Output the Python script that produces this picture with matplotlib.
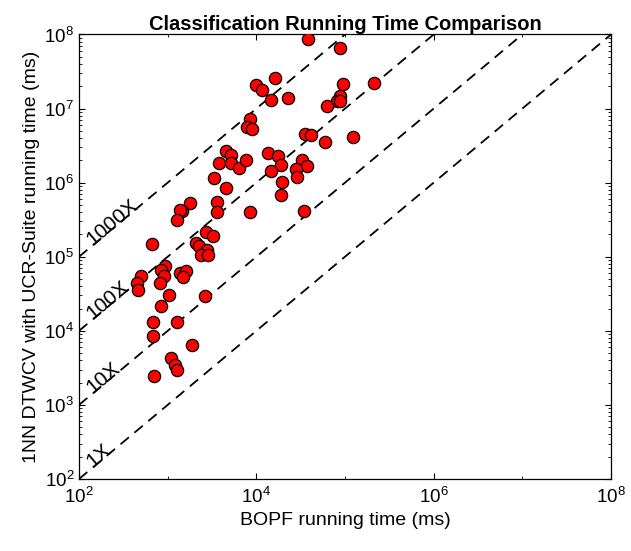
import numpy as np
import matplotlib
matplotlib.use("Agg")
import matplotlib.pyplot as plt
from matplotlib.ticker import LogLocator, NullFormatter

plt.rcParams['font.family'] = ['Liberation Sans', 'DejaVu Sans']
plt.rcParams['mathtext.fontset'] = 'custom'
plt.rcParams['mathtext.rm'] = 'Liberation Sans'
plt.rcParams['mathtext.it'] = 'Liberation Sans:italic'
plt.rcParams['mathtext.bf'] = 'Liberation Sans:bold'

# running time per dataset (ms)
bopf_ms = [
    38300, 87700, 16200, 10000, 11600, 14500, 22700, 94900, 212000, 87700,
    82200, 88900, 62100, 8490, 7750, 8930, 35600, 41300, 60000, 122000,
    4550, 5120, 3790, 5120, 6370, 7710, 3360, 4550, 13500, 17500,
    19000, 14500, 19500, 19000, 33000, 37200, 28200, 28500, 8490, 34400,
    3600, 3600, 1790, 1450, 1360, 1260, 665, 2690, 3260, 2100,
    2280, 2810, 2380, 2880, 933, 841, 916, 830, 498, 448,
    463, 1370, 1600, 1480, 1040, 2670, 837, 675, 1270, 692,
    1860, 1090, 1220, 1280, 705,
]
dtw_ms = [
    8.69e7, 6.58e7, 2.59e7, 2.08e7, 1.78e7, 1.31e7, 1.39e7, 2.18e7, 2.19e7, 1.48e7,
    1.25e7, 1.27e7, 1.10e7, 7.18e6, 5.60e6, 5.36e6, 4.50e6, 4.34e6, 3.54e6, 4.10e6,
    2.64e6, 2.33e6, 1.83e6, 1.83e6, 1.58e6, 2.00e6, 1.17e6, 8.47e5, 2.49e6, 2.28e6,
    1.73e6, 1.44e6, 1.01e6, 6.82e5, 2.02e6, 1.68e6, 1.53e6, 1.21e6, 3.99e5, 4.15e5,
    5.41e5, 3.96e5, 5.24e5, 4.08e5, 4.34e5, 3.18e5, 1.48e5, 2.13e5, 1.91e5, 1.55e5,
    1.41e5, 1.24e5, 1.07e5, 1.06e5, 7.52e4, 6.64e4, 5.46e4, 4.39e4, 5.56e4, 4.41e4,
    3.53e4, 6.10e4, 6.43e4, 5.26e4, 3.08e4, 2.96e4, 2.17e4, 1.32e4, 1.32e4, 8450,
    6410, 4290, 3410, 2940, 2430,
]

speedups = [1, 10, 100, 1000]
speedup_labels = ['1X', '10X', '100X', '1000X']

fig = plt.figure(figsize=(6.31, 5.51), dpi=100)
ax = fig.add_axes([0.1252, 0.1307, 0.8431, 0.8067])

xs = np.array([1e2, 1e8])
for k in speedups:
    ax.plot(xs, k * xs, color='black', lw=1.3, dashes=(6, 4), zorder=1)

ax.scatter(bopf_ms, dtw_ms, s=78, c='#ff0000', edgecolors='black',
           linewidths=0.9, zorder=3)

ax.set_xscale('log')
ax.set_yscale('log')
ax.set_xlim(1e2, 1e8)
ax.set_ylim(1e2, 1e8)

# line labels sit on the diagonals, rotated to their on-screen slope
bbox = ax.get_window_extent()
angle = np.degrees(np.arctan2(bbox.height, bbox.width))
x0 = 10 ** 2.15
for k, lab in zip(speedups, speedup_labels):
    ax.text(x0, k * x0, lab, rotation=angle, rotation_mode='anchor',
            ha='left', va='baseline', fontsize=15)

ax.xaxis.set_major_locator(LogLocator(base=100))
ax.xaxis.set_minor_locator(LogLocator(base=10, subs=(1.0,)))
ax.xaxis.set_minor_formatter(NullFormatter())
ax.yaxis.set_major_locator(LogLocator(base=10))
ax.yaxis.set_minor_locator(LogLocator(base=10, subs=np.arange(2, 10)))
ax.yaxis.set_minor_formatter(NullFormatter())

ax.tick_params(which='both', direction='in', top=True, right=True, labelsize=13.5)
ax.tick_params(which='major', length=4, width=0.8)
ax.tick_params(which='minor', length=2.2, width=0.6)
ax.tick_params(axis='x', pad=6)
for sp in ax.spines.values():
    sp.set_linewidth(0.9)

ax.set_xlabel('BOPF running time (ms)', fontsize=14, labelpad=3)
ax.set_ylabel('1NN DTWCV with UCR-Suite running time (ms)', fontsize=14, labelpad=3)
ax.set_title('Classification Running Time Comparison', fontsize=14.5,
             fontweight='bold', pad=3)

fig.savefig('out.png', dpi=100)
